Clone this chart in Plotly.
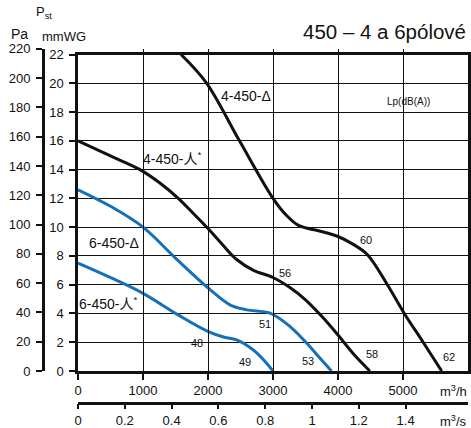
import plotly.graph_objects as go

# ---------------- data ----------------
# 4-450-Δ (black)
q_4d = [1585, 1980, 2484, 3000, 3200, 3400, 3700, 4000, 4235, 4450, 4760, 5020, 5310, 5595]
p_4d = [22.0, 20.0, 16.0, 12.0, 10.85, 10.1, 9.75, 9.35, 8.8, 8.1, 6.0, 4.0, 2.0, 0.0]
# 4-450-人* (black)
q_4y = [0, 500, 954, 1250, 1543, 1774, 2000, 2200, 2440, 2700, 3000, 3260, 3500, 3750, 4000, 4235, 4490]
p_4y = [16.0, 14.95, 14.0, 13.1, 12.0, 10.95, 9.9, 8.9, 7.75, 7.0, 6.5, 5.8, 4.95, 3.8, 2.5, 1.2, 0.0]
# 6-450-Δ (blue)
q_6d = [0, 500, 1000, 1500, 2005, 2338, 2595, 2954, 3262, 3569, 3700, 3900]
p_6d = [12.6, 11.45, 10.0, 7.85, 5.76, 4.6, 4.25, 4.02, 3.09, 1.69, 1.0, 0.0]
# 6-450-人* (blue)
q_6y = [0, 400, 1000, 1540, 2005, 2250, 2441, 2697, 2850, 3000]
p_6y = [7.5, 6.7, 5.4, 3.9, 2.74, 2.35, 2.16, 1.46, 0.8, 0.0]

series_names = ["4-450-Δ", "4-450-人<sup>*</sup>", "6-450-Δ", "6-450-人<sup>*</sup>"]
noise_labels = ["48", "49", "51", "53", "56", "58", "60", "62"]

x_ticks_m3h = [0, 1000, 2000, 3000, 4000, 5000]
x_ticks_m3s = [0, 0.2, 0.4, 0.6, 0.8, 1, 1.2, 1.4]
y_ticks_mmwg = list(range(0, 23, 2))
y_ticks_pa = list(range(0, 221, 20))

# ---------------- layout helpers ----------------
W, H = 471, 428
ML, MR, MT, MB = 40, 3, 45, 5
PW, PH = W - ML - MR, H - MT - MB
FONT = "Liberation Sans, Arial, Noto Sans CJK SC, sans-serif"
BLACK = "#111111"
BLUE = "#1570b8"

def px(x):
    return (x - ML) / PW

def py(y):
    return (H - MB - y) / PH

MMWG_TO_PA = 9.80665

fig = go.Figure()

curves = [(q_4d, p_4d, BLACK), (q_4y, p_4y, BLACK), (q_6d, p_6d, BLUE), (q_6y, p_6y, BLUE)]
for (q, p, c), name in zip(curves, series_names):
    fig.add_trace(go.Scatter(x=q, y=p, mode="lines", name=name,
                             line=dict(color=c, width=3, shape="spline", smoothing=1.0),
                             showlegend=False, hoverinfo="skip"))

# helper invisible traces to activate secondary axes
fig.add_trace(go.Scatter(x=[0], y=[0], xaxis="x", yaxis="y2", mode="markers",
                         marker=dict(opacity=0), showlegend=False, hoverinfo="skip"))
fig.add_trace(go.Scatter(x=[0], y=[0], xaxis="x2", yaxis="y", mode="markers",
                         marker=dict(opacity=0), showlegend=False, hoverinfo="skip"))

x_dom = [px(78), 1.0]
y_bot = py(371)
y_top = py(54.5)
y_top_pa = py(371 - 22 * 14.36 * (220 / (22 * MMWG_TO_PA)))

fig.update_layout(
    width=W, height=H,
    margin=dict(l=ML, r=MR, t=MT, b=MB, autoexpand=False),
    paper_bgcolor="white", plot_bgcolor="rgba(0,0,0,0)",
    font=dict(family=FONT, size=13, color=BLACK),
    xaxis=dict(domain=x_dom, range=[0, 6000], tickvals=x_ticks_m3h,
               ticks="outside", ticklen=6, tickwidth=1.5, tickcolor=BLACK,
               showline=True, linewidth=2.5, linecolor=BLACK, mirror=True,
               showgrid=True, gridcolor=BLACK, gridwidth=1, automargin=False,
               tickfont=dict(size=13), zeroline=False, anchor="y"),
    xaxis2=dict(domain=x_dom, range=[0, 6000 / 3600], tickvals=x_ticks_m3s,
                ticktext=[("%g" % v) for v in x_ticks_m3s],
                overlaying="x", anchor="free", position=py(402.7), side="bottom",
                ticks="outside", ticklen=5, tickwidth=1.5, tickcolor=BLACK,
                showline=True, linewidth=2.5, linecolor=BLACK, automargin=False,
                showgrid=False, zeroline=False, tickfont=dict(size=13)),
    yaxis=dict(domain=[y_bot, y_top], range=[0, 22], tickvals=y_ticks_mmwg,
               ticks="outside", ticklen=6, tickwidth=1.5, tickcolor=BLACK,
               showline=True, linewidth=2.5, linecolor=BLACK, mirror=True,
               showgrid=True, gridcolor=BLACK, gridwidth=1, automargin=False,
               tickfont=dict(size=13), zeroline=False, anchor="x",
               ticklabelstandoff=3),
    yaxis2=dict(domain=[y_bot, y_top_pa], range=[0, 220], tickvals=y_ticks_pa,
                anchor="free", position=px(43), side="left",
                ticks="outside", ticklen=6, tickwidth=1.5, tickcolor=BLACK,
                showline=True, linewidth=3, linecolor=BLACK, automargin=False,
                showgrid=False, zeroline=False, tickfont=dict(size=13),
                ticklabelstandoff=3),
)

ann = []
# title & axis units
ann.append(dict(x=px(468), y=py(32), xref="paper", yref="paper", text="450 – 4 a 6pólové",
                xanchor="right", yanchor="middle", showarrow=False, font=dict(size=20.5)))
ann.append(dict(x=px(34), y=py(12), xref="paper", yref="paper", text="P<sub>st</sub>",
                xanchor="left", yanchor="middle", showarrow=False, font=dict(size=13)))
ann.append(dict(x=px(9), y=py(34), xref="paper", yref="paper", text="Pa",
                xanchor="left", yanchor="middle", showarrow=False, font=dict(size=14)))
ann.append(dict(x=px(40), y=py(36), xref="paper", yref="paper", text="mmWG",
                xanchor="left", yanchor="middle", showarrow=False, font=dict(size=13)))
ann.append(dict(x=px(469), y=py(391), xref="paper", yref="paper", text="m<sup>3</sup>/h",
                xanchor="right", yanchor="middle", showarrow=False, font=dict(size=13)))
ann.append(dict(x=px(469), y=py(421), xref="paper", yref="paper", text="m<sup>3</sup>/s",
                xanchor="right", yanchor="middle", showarrow=False, font=dict(size=13)))

# series names
name_pos = [(2585, 19.1), (1446, 14.8), (554, 8.9), (462, 4.75)]
for t, (x, y) in zip(series_names, name_pos):
    ann.append(dict(x=x, y=y, xref="x", yref="y", text=t, showarrow=False,
                    xanchor="center", yanchor="middle", font=dict(size=14)))
ann.append(dict(x=5092, y=18.73, xref="x", yref="y", text="Lp(dB(A))", showarrow=False,
                xanchor="center", yanchor="middle", font=dict(size=10)))
lab_pos = [(1826, 1.93), (2569, 0.65), (2877, 3.27), (3533, 0.72),
           (3185, 6.8), (4518, 1.18), (4431, 9.12), (5712, 1.0)]
for t, (x, y) in zip(noise_labels, lab_pos):
    ann.append(dict(x=x, y=y, xref="x", yref="y", text=t, showarrow=False,
                    xanchor="center", yanchor="middle", font=dict(size=11)))

fig.update_layout(annotations=ann)
fig.write_html("out.html", config={"displayModeBar": False},
               post_script="document.body.style.margin='0px';")
